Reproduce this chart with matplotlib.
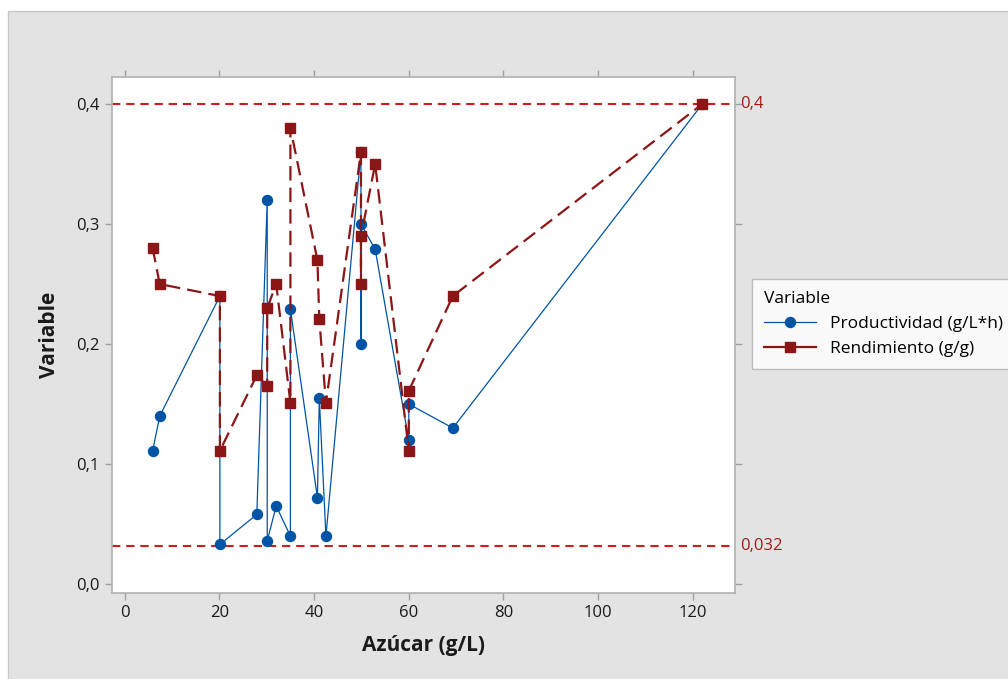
import matplotlib
matplotlib.use('Agg')
import matplotlib.pyplot as plt
from matplotlib.patches import Rectangle
from matplotlib.ticker import FuncFormatter

# Datos (Azúcar, Productividad, Rendimiento) en el orden de las filas
azucar = [5.9, 7.4, 20.1, 20.1, 27.9, 30.1, 30.1, 32.0, 35.0, 35.0, 40.7, 41.1,
          42.5, 49.9, 49.9, 49.9, 52.9, 60.0, 60.0, 69.3, 122.0]
productividad = [0.111, 0.140, 0.240, 0.033, 0.058, 0.320, 0.036, 0.065, 0.040, 0.229, 0.072, 0.155,
                 0.040, 0.360, 0.200, 0.300, 0.279, 0.120, 0.150, 0.130, 0.400]
rendimiento = [0.280, 0.250, 0.240, 0.111, 0.174, 0.165, 0.230, 0.250, 0.151, 0.380, 0.270, 0.221,
               0.151, 0.360, 0.250, 0.290, 0.350, 0.111, 0.161, 0.240, 0.400]
lineas_ref = [0.4, 0.032]
etiquetas_ref = ['0,4', '0,032']
x_ticks = [0, 20, 40, 60, 80, 100, 120]
y_ticks = [0.0, 0.1, 0.2, 0.3, 0.4]

plt.rcParams['font.family'] = ['Open Sans', 'DejaVu Sans']

fig = plt.figure(figsize=(10.08, 6.79), dpi=100, facecolor='white')
# Fondo gris del grafico de Minitab (detras de los ejes)
fondo = Rectangle((8 / 1008, -0.01), 1, 1.01 - 11 / 679, transform=fig.transFigure,
                  facecolor='#e3e3e3', edgecolor='#c8c8c8', linewidth=1, zorder=-10)
fig.add_artist(fondo)
ax = fig.add_axes([112.3 / 1008, 1 - 592.7 / 679, (735 - 112.3) / 1008, (592.7 - 76.7) / 679])
ax.set_facecolor('white')

azul = '#0054a6'
rojo = '#8c1515'

ax.plot(azucar, productividad, color=azul, linewidth=0.9, marker='o', markersize=7.2,
        markeredgecolor=azul, label='Productividad (g/L*h)', zorder=3)
ax.plot(azucar, rendimiento, color=rojo, linewidth=1.6, dashes=(6.5, 3.2), marker='s', markersize=7.8,
        markeredgecolor=rojo, label='Rendimiento (g/g)', zorder=4)

# Lineas de referencia
for val, txt in zip(lineas_ref, etiquetas_ref):
    ax.axhline(val, color='#d01c1c', linewidth=1.5, dashes=(4, 2.8), zorder=2)
    ax.text(1.009, val, txt, transform=ax.get_yaxis_transform(), color='#a31a1a',
            fontsize=12, va='center', ha='left')

ax.set_xlim(-2.62, 128.9)
ax.set_ylim(-0.0072, 0.4228)
ax.set_xticks(x_ticks)
ax.set_yticks(y_ticks)
ax.yaxis.set_major_formatter(FuncFormatter(lambda v, p: f'{v:.1f}'.replace('.', ',')))
ax.tick_params(top=True, right=True, direction='out', length=5, width=1, color='#a0a0a0',
               labelsize=12, labelcolor='#1a1a1a', pad=4)
for s in ax.spines.values():
    s.set_color('#b0b0b0')
    s.set_linewidth(1.2)

ax.set_xlabel('Azúcar (g/L)', fontsize=15, fontweight='bold', color='#1a1a1a', labelpad=10)
ax.set_ylabel('Variable', fontsize=15, fontweight='bold', color='#1a1a1a', labelpad=12)

leg = ax.legend(loc='upper left', bbox_to_anchor=(752 / 1008, 1 - 279 / 679),
                bbox_transform=fig.transFigure, title='Variable', fontsize=12.5,
                title_fontsize=12.5, frameon=True, fancybox=False, handlelength=3.0,
                borderpad=0.7, labelspacing=0.5, handletextpad=0.8, borderaxespad=0)
leg._legend_box.align = 'left'
leg.get_frame().set_edgecolor('#b0b0b0')
leg.get_frame().set_linewidth(1)
for h in leg.legend_handles:
    h.set_linestyle('-')

fig.savefig('out.png', dpi=100, facecolor=fig.get_facecolor())
